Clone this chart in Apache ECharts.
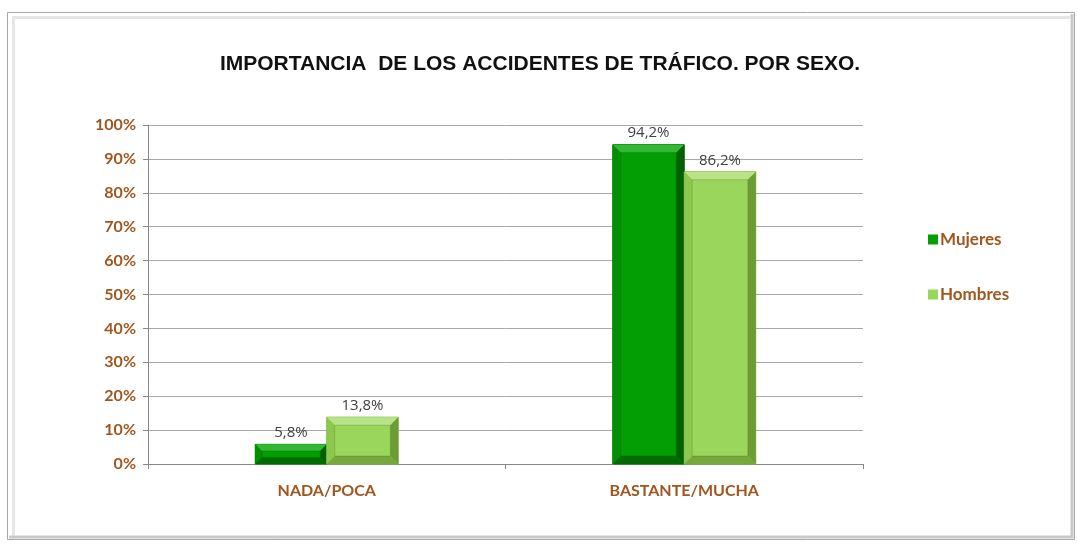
<!DOCTYPE html>
<html>
<head>
<meta charset="utf-8">
<script src="https://cdn.jsdelivr.net/npm/echarts@6/dist/echarts.min.js"></script>
<style>
  html, body { margin: 0; padding: 0; background: #ffffff; }
  #chart { width: 1078px; height: 547px; }
</style>
</head>
<body>
<div id="chart"></div>
<script>
// Chart data
const categories = ['NADA/POCA', 'BASTANTE/MUCHA'];
const seriesNames = ['Mujeres', 'Hombres'];
const mujeres = [5.8, 94.2];
const hombres = [13.8, 86.2];
const yTicks = [0, 10, 20, 30, 40, 50, 60, 70, 80, 90, 100];

// Bevelled bar colours: face, top edge, left edge, right edge, bottom edge, outline
const palettes = [
  { face: '#039e03', top: '#33b833', left: '#028f02', right: '#016001', bottom: '#016a01', line: '#027a02' },
  { face: '#9bd65c', top: '#b7e486', left: '#8cc84c', right: '#6c9c34', bottom: '#76a83c', line: '#7fb443' }
];

const brown = '#a0561e';
const fmt = v => v.toFixed(1).replace('.', ',') + '%';

function bevelBar(seriesIdx) {
  const pal = palettes[seriesIdx];
  return function (params, api) {
    const cat = api.value(0);
    const val = api.value(1);
    const bandW = api.size([1, 0])[0];
    const w = bandW * 0.2;
    const base = api.coord([cat, 0]);
    const topPt = api.coord([cat, val]);
    const x = base[0] + (seriesIdx === 0 ? -w : 0);
    const y = topPt[1];
    const h = base[1] - topPt[1];
    const b = Math.min(8, h / 3);
    const poly = (pts, fill) => ({ type: 'polygon', shape: { points: pts }, style: { fill: fill } });
    return {
      type: 'group',
      children: [
        { type: 'rect', shape: { x: x, y: y, width: w, height: h }, style: { fill: pal.face, stroke: pal.line, lineWidth: 1 } },
        poly([[x, y], [x + w, y], [x + w - b, y + b], [x + b, y + b]], pal.top),
        poly([[x, y], [x + b, y + b], [x + b, y + h - b], [x, y + h]], pal.left),
        poly([[x + w, y], [x + w, y + h], [x + w - b, y + h - b], [x + w - b, y + b]], pal.right),
        poly([[x, y + h], [x + b, y + h - b], [x + w - b, y + h - b], [x + w, y + h]], pal.bottom),
        { type: 'rect', shape: { x: x + b, y: y + b, width: w - 2 * b, height: h - 2 * b }, style: { fill: pal.face, stroke: 'rgba(0,0,0,0.15)', lineWidth: 1 } },
        { type: 'text', style: { text: fmt(val), x: x + w / 2, y: y - 4, align: 'center', verticalAlign: 'bottom',
            fill: '#404040', font: '15px "Open Sans", sans-serif' } }
      ]
    };
  };
}

const chart = echarts.init(document.getElementById('chart'), null, { renderer: 'canvas' });
chart.setOption({
  backgroundColor: '#ffffff',
  animation: false,
  graphic: [
    { type: 'rect', shape: { x: 7.5, y: 12.5, width: 1067, height: 527 }, style: { fill: 'none', stroke: '#a6a6a6', lineWidth: 1 }, z: 10 },
    { type: 'polyline', shape: { points: [[13.5, 537], [13.5, 17.5], [1070, 17.5]] }, style: { stroke: '#e6e6e6', lineWidth: 3, fill: 'none' }, z: 10 },
    { type: 'polyline', shape: { points: [[1072, 14], [1072, 537], [9, 537]] }, style: { stroke: '#c8c8c8', lineWidth: 3, fill: 'none' }, z: 10 }
  ],
  title: {
    text: 'IMPORTANCIA  DE LOS ACCIDENTES DE TRÁFICO. POR SEXO.',
    left: 535, top: 49, textAlign: 'center',
    textStyle: { fontFamily: '"Liberation Sans", Arial, sans-serif', fontWeight: 'bold', fontSize: 21, color: '#111111' }
  },
  legend: {
    orient: 'vertical',
    left: 923, top: 226,
    itemGap: 38,
    itemWidth: 10, itemHeight: 10,
    icon: 'rect',
    data: seriesNames,
    textStyle: { color: brown, fontWeight: 'bold', fontSize: 17, fontFamily: 'Lato, "Open Sans", sans-serif', padding: [0, 0, 0, -3] }
  },
  grid: { left: 148, right: 215, top: 125, bottom: 83, containLabel: false },
  xAxis: {
    type: 'category',
    data: categories,
    axisLine: { lineStyle: { color: '#888888', width: 1 } },
    axisTick: { show: true, length: 5, lineStyle: { color: '#888888' } },
    axisLabel: { color: brown, fontWeight: 'bold', fontSize: 16, margin: 19, fontFamily: 'Lato, "Open Sans", sans-serif' }
  },
  yAxis: {
    type: 'value',
    min: yTicks[0], max: yTicks[yTicks.length - 1], interval: 10,
    axisLine: { show: true, lineStyle: { color: '#888888', width: 1 } },
    axisTick: { show: true, length: 5, lineStyle: { color: '#888888' } },
    splitLine: { lineStyle: { color: '#a8a8a8', width: 1 } },
    axisLabel: { color: brown, fontWeight: 'bold', fontSize: 16, margin: 12, fontFamily: 'Lato, "Open Sans", sans-serif',
      formatter: v => v + '%' }
  },
  series: [
    { name: seriesNames[0], type: 'custom', renderItem: bevelBar(0), itemStyle: { color: palettes[0].face },
      encode: { x: 0, y: 1 }, data: mujeres.map((v, i) => [i, v]) },
    { name: seriesNames[1], type: 'custom', renderItem: bevelBar(1), itemStyle: { color: palettes[1].face },
      encode: { x: 0, y: 1 }, data: hombres.map((v, i) => [i, v]) }
  ]
});
</script>
</body>
</html>
